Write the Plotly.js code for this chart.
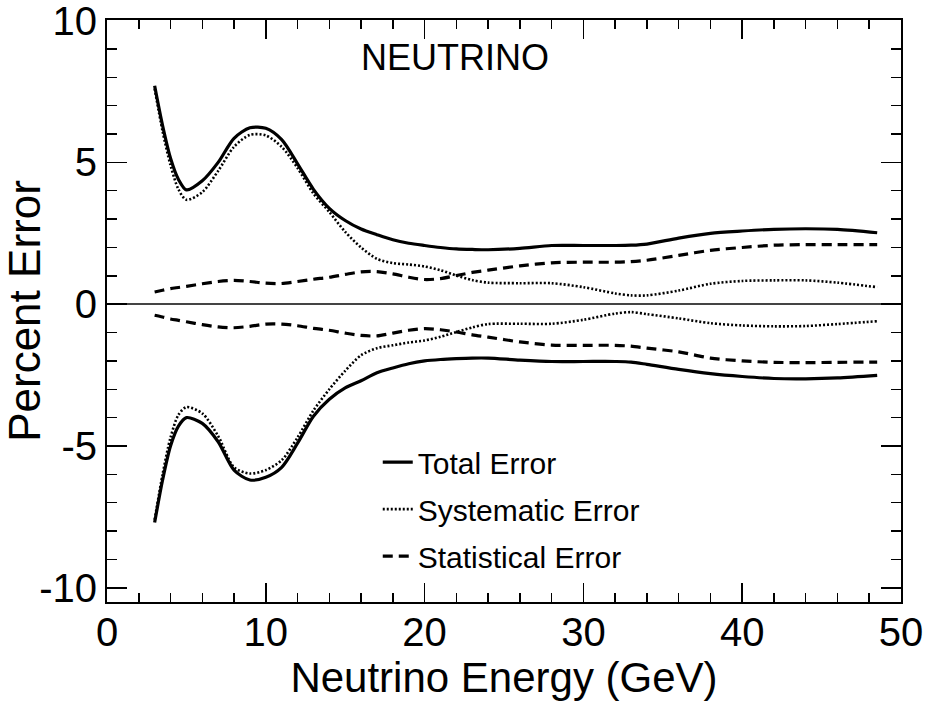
<!DOCTYPE html>
<html>
<head>
<meta charset="utf-8">
<script src="https://cdn.plot.ly/plotly-3.0.1.min.js"></script>
<style>html,body{margin:0;padding:0;background:#fff;}#chart{width:929px;height:705px;}</style>
</head>
<body>
<div id="chart"></div>
<script>
// Neutrino energy (GeV)
const energy = [3, 3.5, 4, 4.5, 5, 6, 7, 8, 9, 10, 11, 12, 13, 14, 15, 16, 17, 18, 19, 20, 21, 22, 23, 24, 26, 28, 30, 32, 33, 34, 36, 38, 40, 42, 44, 46, 48.5];

// Percent error, upper (+) band
const totalUp = [7.7, 6.3, 5.15, 4.4, 4.03, 4.35, 5.0, 5.85, 6.22, 6.2, 5.8, 4.95, 4.05, 3.38, 2.95, 2.65, 2.45, 2.27, 2.15, 2.07, 2.0, 1.95, 1.93, 1.92, 1.97, 2.07, 2.07, 2.07, 2.08, 2.12, 2.33, 2.5, 2.58, 2.64, 2.66, 2.64, 2.52];
const systUp = [7.6, 6.1, 4.9, 4.05, 3.68, 3.95, 4.7, 5.55, 5.97, 5.95, 5.55, 4.8, 3.9, 3.25, 2.55, 2.0, 1.6, 1.45, 1.4, 1.33, 1.2, 1.01, 0.85, 0.76, 0.74, 0.74, 0.6, 0.38, 0.31, 0.31, 0.48, 0.72, 0.82, 0.84, 0.84, 0.76, 0.6];
const statUp = [0.43, 0.49, 0.55, 0.59, 0.63, 0.72, 0.8, 0.84, 0.8, 0.74, 0.73, 0.8, 0.88, 0.95, 1.05, 1.14, 1.15, 1.07, 0.95, 0.87, 0.9, 1.01, 1.12, 1.2, 1.35, 1.46, 1.48, 1.48, 1.5, 1.55, 1.72, 1.9, 2.0, 2.08, 2.1, 2.1, 2.1];

// Percent error, lower (-) band
const totalDn = [-7.7, -6.2, -5.0, -4.3, -4.0, -4.2, -4.85, -5.85, -6.2, -6.1, -5.75, -4.9, -3.95, -3.35, -2.95, -2.7, -2.42, -2.25, -2.1, -2.0, -1.95, -1.92, -1.9, -1.9, -1.97, -2.02, -2.02, -2.02, -2.04, -2.12, -2.3, -2.45, -2.55, -2.62, -2.63, -2.6, -2.51];
const systDn = [-7.6, -6.0, -4.7, -3.9, -3.63, -3.85, -4.65, -5.75, -5.97, -5.85, -5.5, -4.7, -3.75, -3.0, -2.35, -1.8, -1.55, -1.45, -1.35, -1.28, -1.15, -0.98, -0.82, -0.7, -0.69, -0.69, -0.55, -0.33, -0.28, -0.35, -0.5, -0.67, -0.75, -0.78, -0.77, -0.7, -0.6];
const statDn = [-0.39, -0.45, -0.52, -0.57, -0.62, -0.72, -0.8, -0.83, -0.78, -0.7, -0.7, -0.76, -0.85, -0.92, -1.02, -1.1, -1.12, -1.02, -0.92, -0.86, -0.9, -0.98, -1.08, -1.16, -1.33, -1.44, -1.45, -1.45, -1.48, -1.55, -1.68, -1.9, -2.0, -2.05, -2.06, -2.05, -2.04];

const seriesNames = ["Total Error", "Systematic Error", "Statistical Error"];
const panelLabel = "NEUTRINO";
const xTitle = "Neutrino Energy (GeV)";
const yTitle = "Percent Error";
const yTickVals = [-10, -5, 0, 5, 10];
const yTickText = ["-10", "-5", "0", "5", "10"];
const xTickVals = [0, 10, 20, 30, 40, 50];
const xTickText = ["0", "10", "20", "30", "40", "50"];

const FONT = "'Liberation Sans', Arial, Helvetica, sans-serif";

const styles = [
  {color: "#000", width: 3.2, dash: "solid"},
  {color: "#000", width: 2.6, dash: "2px,2px"},
  {color: "#000", width: 3.2, dash: "10px,6px"}
];

function tr(y, i, show) {
  return {
    x: energy, y: y, type: "scatter", mode: "lines",
    name: seriesNames[i], legendgroup: "g" + i, showlegend: show,
    line: {color: styles[i].color, width: styles[i].width, dash: styles[i].dash, shape: "spline", smoothing: 0.8},
    hoverinfo: "skip"
  };
}

const data = [
  tr(totalUp, 0, true), tr(systUp, 1, true), tr(statUp, 2, true),
  tr(totalDn, 0, false), tr(systDn, 1, false), tr(statDn, 2, false)
];

const axisCommon = {
  showline: true, linecolor: "#000", linewidth: 2, mirror: "allticks",
  ticks: "inside", tickcolor: "#000", tickwidth: 1.5,
  showgrid: false, ticklabeloverflow: "allow",
  tickfont: {family: FONT, size: 40, color: "#000"}
};

const layout = {
  width: 929, height: 705,
  margin: {l: 107, r: 28, t: 20, b: 103},
  paper_bgcolor: "#fff", plot_bgcolor: "#fff",
  font: {family: FONT, color: "#000"},
  showlegend: true,
  legend: {
    x: 0.341, y: 0.285, xanchor: "left", yanchor: "top",
    font: {family: FONT, size: 30, color: "#000"},
    bgcolor: "rgba(0,0,0,0)", borderwidth: 0, tracegroupgap: 5
  },
  xaxis: Object.assign({}, axisCommon, {
    range: [0, 50], tickmode: "array", tickvals: xTickVals, ticktext: xTickText,
    ticklen: 19, zeroline: false, ticklabelstandoff: -6,
    minor: {dtick: 2, tick0: 0, ticklen: 9, ticks: "inside", tickcolor: "#000", tickwidth: 1.5, showgrid: false},
    title: {text: xTitle, font: {family: FONT, size: 42, color: "#000"}, standoff: 0}
  }),
  yaxis: Object.assign({}, axisCommon, {
    range: [-10.5, 10.02], tickmode: "array", tickvals: yTickVals, ticktext: yTickText,
    ticklen: 20,
    zeroline: true, zerolinecolor: "#444", zerolinewidth: 1.5,
    minor: {dtick: 1, tick0: 0, ticklen: 10, ticks: "inside", tickcolor: "#000", tickwidth: 1.5, showgrid: false},
    title: {text: yTitle, font: {family: FONT, size: 44, color: "#000"}, standoff: 2}
  }),
  annotations: [{
    text: panelLabel, xref: "x", yref: "y", x: 21.9, y: 8.7,
    showarrow: false, font: {family: FONT, size: 36, color: "#000"}
  }]
};

Plotly.newPlot("chart", data, layout, {displayModeBar: false, staticPlot: true});
</script>
</body>
</html>
